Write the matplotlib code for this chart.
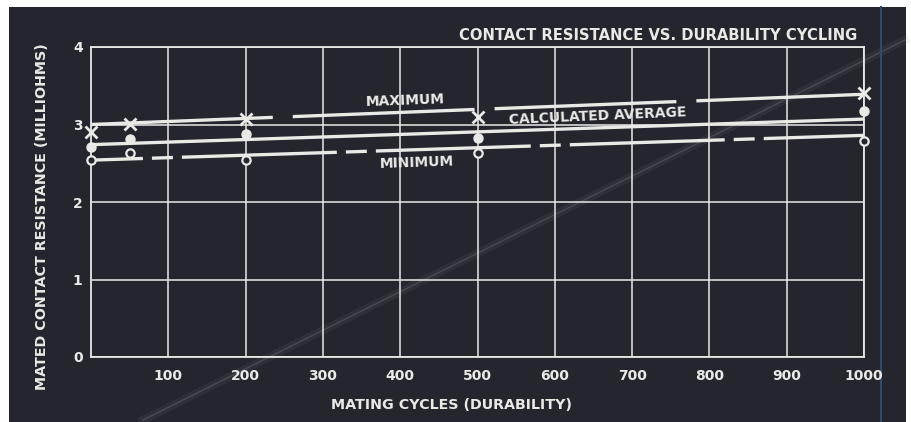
import matplotlib.pyplot as plt
import numpy as np

plt.rcParams['lines.scale_dashes'] = False

# measured resistance (milliohms) at each durability checkpoint
cycles = [0, 50, 200, 500, 1000]
max_vals = [2.90, 3.01, 3.07, 3.10, 3.41]
avg_vals = [2.71, 2.81, 2.88, 2.83, 3.17]
min_vals = [2.54, 2.63, 2.54, 2.63, 2.79]

# straight-line trends drawn through each set (value at 0 and 1000 cycles)
fit_x = [0, 1000]
max_fit = [3.00, 3.39]
avg_fit = [2.74, 3.07]
min_fit = [2.54, 2.86]

x_ticks = [100, 200, 300, 400, 500, 600, 700, 800, 900, 1000]
y_ticks = [0, 1, 2, 3, 4]

bg = '#24252d'
ink = '#e9e9e6'
font = 'DejaVu Sans'

fig = plt.figure(figsize=(9.12, 4.22), dpi=100)
fig.patch.set_facecolor('white')

# dark photographed card behind the chart
card = plt.Rectangle((9 / 912, 0), 897 / 912, 415 / 422, transform=fig.transFigure,
                     facecolor=bg, edgecolor='none', zorder=-10)
fig.add_artist(card)

# faint crease across the print and the blue edge line on the right
fig.add_artist(plt.Line2D([143 / 912, 905 / 912], [2 / 422, 382 / 422], transform=fig.transFigure,
                          color='#8a8c92', lw=6, alpha=0.10, zorder=-9))
fig.add_artist(plt.Line2D([143 / 912, 905 / 912], [2 / 422, 382 / 422], transform=fig.transFigure,
                          color='#a8aaae', lw=1.0, alpha=0.22, zorder=-9))
fig.add_artist(plt.Line2D([881 / 912, 881 / 912], [0, 415 / 422], transform=fig.transFigure,
                          color='#2d4b6e', lw=1.5, zorder=-9))

ax = fig.add_axes([91 / 912, 65 / 422, 773 / 912, 310 / 422])
ax.set_facecolor('none')
ax.set_xlim(0, 1000)
ax.set_ylim(0, 4)

for s in ax.spines.values():
    s.set_color(ink)
    s.set_linewidth(1.3)

ax.set_xticks(x_ticks)
ax.set_yticks(y_ticks)
ax.grid(True, color=ink, linewidth=1.1)
ax.set_axisbelow(True)
ax.tick_params(axis='x', length=0, colors=ink, pad=9)
ax.tick_params(axis='y', length=0, colors=ink, pad=6)
ax.set_xticklabels([str(t) for t in x_ticks], fontfamily=font, fontweight='bold', fontsize=10)
ax.set_yticklabels([str(t) for t in y_ticks], fontfamily=font, fontweight='bold', fontsize=10)

# trend lines with the broken patterns of the original drafting
ax.plot(fit_x, max_fit, color=ink, lw=2.4, linestyle=(0, (131, 14.4)), dash_capstyle='butt', zorder=3)
ax.plot(fit_x, avg_fit, color=ink, lw=2.4, zorder=3)
ax.plot(fit_x, min_fit, color=ink, lw=2.4, linestyle=(74.2, (111.6, 6.5, 15.1, 6.5)),
        dash_capstyle='butt', zorder=3)

# measured points
ax.plot(cycles, max_vals, linestyle='none', marker='x', ms=8, mew=2, color=ink, clip_on=False, zorder=4)
ax.plot(cycles, avg_vals, linestyle='none', marker='o', ms=6.5, color=ink, clip_on=False, zorder=4)
ax.plot(cycles, min_vals, linestyle='none', marker='o', ms=6, mew=1.6, mfc=bg, mec=ink,
        clip_on=False, zorder=4)

lbl = dict(color=ink, fontfamily=font, fontweight='bold', fontsize=10, ha='center', va='center')
ax.text(406, 3.31, 'MAXIMUM', rotation=2, **lbl)
ax.text(655, 3.11, 'CALCULATED AVERAGE', rotation=2.5, **lbl)
ax.text(422, 2.51, 'MINIMUM', rotation=2, **lbl)

fig.text(857 / 912, 1 - 35 / 422, 'CONTACT RESISTANCE VS. DURABILITY CYCLING', color=ink,
         fontfamily=font, fontweight='bold', fontsize=10.6, ha='right', va='center')
fig.text(452 / 912, 1 - 405 / 422, 'MATING CYCLES (DURABILITY)', color=ink,
         fontfamily=font, fontweight='bold', fontsize=10.3, ha='center', va='center')
fig.text(42 / 912, 1 - 217 / 422, 'MATED CONTACT RESISTANCE (MILLIOHMS)', color=ink,
         fontfamily=font, fontweight='bold', fontsize=10.3, ha='center', va='center', rotation=90)

fig.savefig('out.png', dpi=100, facecolor=fig.get_facecolor())
